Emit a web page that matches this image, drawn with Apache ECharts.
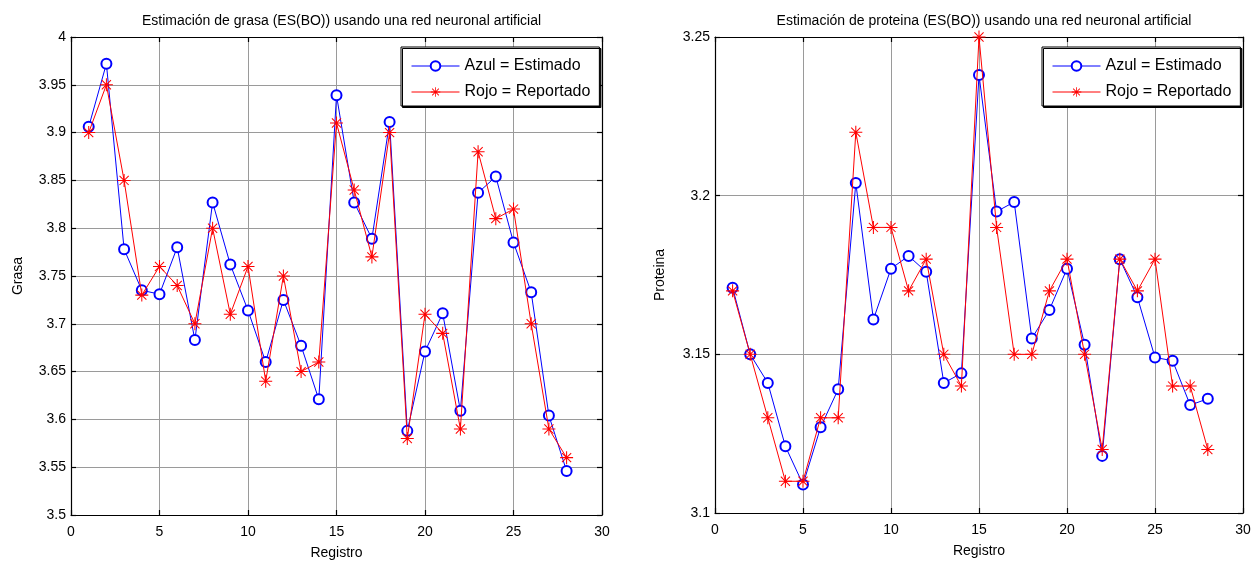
<!DOCTYPE html>
<html>
<head>
<meta charset="utf-8">
<script src="https://cdn.jsdelivr.net/npm/echarts@6/dist/echarts.min.js"></script>
<style>
html,body{margin:0;padding:0;background:#fff;}
#c{width:1257px;height:565px;}
</style>
</head>
<body>
<div id="c"></div>
<script>
const registro = [1,2,3,4,5,6,7,8,9,10,11,12,13,14,15,16,17,18,19,20,21,22,23,24,25,26,27,28];

const grasaEstimado = [3.906,3.972,3.778,3.735,3.731,3.780,3.683,3.827,3.762,3.714,3.660,3.725,3.677,3.621,3.939,3.827,3.789,3.911,3.588,3.671,3.711,3.609,3.837,3.854,3.785,3.733,3.604,3.546];
const grasaReportado = [3.90,3.95,3.85,3.73,3.76,3.74,3.70,3.80,3.71,3.76,3.64,3.75,3.65,3.66,3.91,3.84,3.77,3.90,3.58,3.71,3.69,3.59,3.88,3.81,3.82,3.70,3.59,3.56];

const protEstimado = [3.171,3.150,3.141,3.121,3.109,3.127,3.139,3.204,3.161,3.177,3.181,3.176,3.141,3.144,3.238,3.195,3.198,3.155,3.164,3.177,3.153,3.118,3.180,3.168,3.149,3.148,3.134,3.136];
const protReportado = [3.17,3.15,3.13,3.11,3.11,3.13,3.13,3.22,3.19,3.19,3.17,3.18,3.15,3.14,3.25,3.19,3.15,3.15,3.17,3.18,3.15,3.12,3.18,3.17,3.18,3.14,3.14,3.12];

const titles = ['Estimación de grasa (ES(BO)) usando una red neuronal artificial','Estimación de proteina (ES(BO)) usando una red neuronal artificial'];
const yNames = ['Grasa','Proteina'];
const xName = 'Registro';
const names = ['Azul = Estimado','Rojo = Reportado'];

const FONT = 'Liberation Sans, Arial, sans-serif';
const asterisk = 'path://M0 9.2L20 9.2L20 10.8L0 10.8Z M9.2 0L10.8 0L10.8 20L9.2 20Z M3.5 2.4L17.6 16.5L16.5 17.6L2.4 3.5Z M16.5 2.4L17.6 3.5L3.5 17.6L2.4 16.5Z';

const pairs = (ys) => registro.map((x,i)=>[x, ys[i]]);

const grids = [
  {left:71, top:37, width:531, height:478},
  {left:715, top:37, width:528, height:476}
];
const yRanges = [{min:3.5,max:4,interval:0.05},{min:3.1,max:3.25,interval:0.05}];

const xAxis = [], yAxis = [], series = [];
const axisLineStyle = {color:'#000', width:1.2};
const gridLine = {show:true, lineStyle:{color:'#9a9a9a', width:1}};
const tick = {show:true, inside:true, length:5, lineStyle:{color:'#000', width:1.2}};
grids.forEach((g,i)=>{
  xAxis.push({gridIndex:i, type:'value', min:0, max:30, interval:5, position:'bottom',
    name:xName, nameLocation:'middle', nameGap:31,
    nameTextStyle:{fontFamily:FONT, fontSize:14, color:'#000'},
    axisLine:{show:true, onZero:false, lineStyle:axisLineStyle},
    axisTick:tick,
    axisLabel:{fontFamily:FONT, fontSize:14, color:'#000', margin:10},
    splitLine:gridLine});
  xAxis.push({gridIndex:i, type:'value', min:0, max:30, interval:5, position:'top',
    axisLine:{show:true, onZero:false, lineStyle:axisLineStyle},
    axisTick:tick,
    axisLabel:{show:false}, splitLine:{show:false}});
  const r = yRanges[i];
  yAxis.push({gridIndex:i, type:'value', min:r.min, max:r.max, interval:r.interval, position:'left',
    name:yNames[i], nameLocation:'middle', nameGap:i===0?46:48,
    nameTextStyle:{fontFamily:FONT, fontSize:14, color:'#000'},
    axisLine:{show:true, onZero:false, lineStyle:axisLineStyle},
    axisTick:tick,
    axisLabel:{fontFamily:FONT, fontSize:14, color:'#000', margin:5},
    splitLine:gridLine});
  yAxis.push({gridIndex:i, type:'value', min:r.min, max:r.max, interval:r.interval, position:'right',
    axisLine:{show:true, onZero:false, lineStyle:axisLineStyle},
    axisTick:tick,
    axisLabel:{show:false}, splitLine:{show:false}});
});

const dataSets = [[grasaEstimado, grasaReportado],[protEstimado, protReportado]];
dataSets.forEach((ds,i)=>{
  series.push({name:names[0], type:'line', xAxisIndex:i*2, yAxisIndex:i*2, data:pairs(ds[0]),
    symbol:'emptyCircle', symbolSize:10, showAllSymbol:true, animation:false,
    lineStyle:{color:'#0000ff', width:1}, itemStyle:{color:'#0000ff', borderColor:'#0000ff', borderWidth:1}, z:3});
  series.push({name:names[1], type:'line', xAxisIndex:i*2, yAxisIndex:i*2, data:pairs(ds[1]),
    symbol:asterisk, symbolSize:13, showAllSymbol:true, animation:false,
    lineStyle:{color:'#ff0000', width:1}, itemStyle:{color:'#ff0000', borderWidth:0}, z:4});
});

const legendPos = [{left:401, top:47},{left:1042, top:47}];
const legend = legendPos.map((p,i)=>({
  left:p.left, top:p.top, orient:'vertical', data:names,
  backgroundColor:'#fff', borderColor:'#000', borderWidth:1,
  shadowColor:'#000', shadowOffsetX:1.5, shadowOffsetY:1.5, shadowBlur:0,
  padding:[11,9,6,10], itemGap:10, itemWidth:48, itemHeight:12,
  lineStyle:{width:1}, itemStyle:{borderWidth:1},
  textStyle:{fontFamily:FONT, fontSize:16, color:'#000'}
}));

const title = grids.map((g,i)=>({
  text:titles[i], left:g.left + g.width/2, top:9, textAlign:'center',
  textStyle:{fontFamily:FONT, fontSize:14, fontWeight:'normal', color:'#000'}
}));

const chart = echarts.init(document.getElementById('c'), null, {renderer:'canvas'});
chart.setOption({
  animation:false, backgroundColor:'#fff',
  title, legend, grid:grids, xAxis, yAxis, series
});
</script>
</body>
</html>
